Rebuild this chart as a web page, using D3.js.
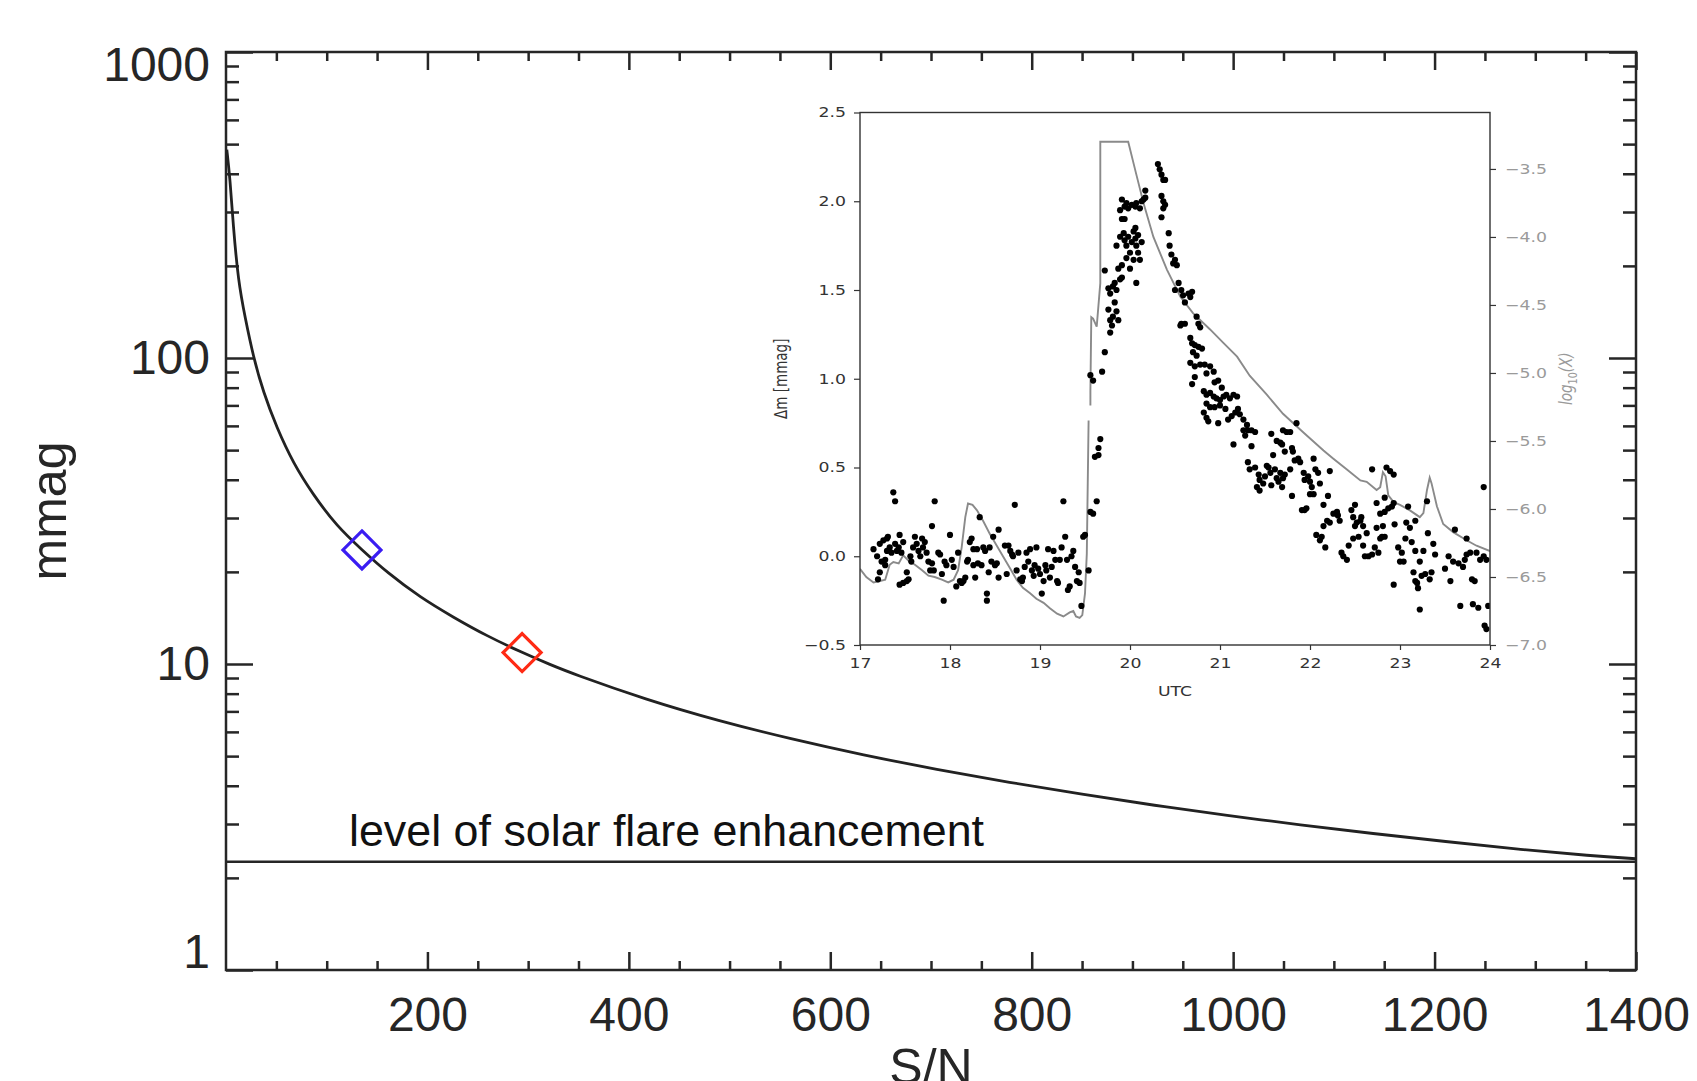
<!DOCTYPE html>
<html>
<head>
<meta charset="utf-8">
<script src="https://cdn.jsdelivr.net/npm/d3@7"></script>
<style>
  body { margin: 0; background: #fff; }
  svg { display: block; }
</style>
</head>
<body>
<script>
// main curve: photometric error (mmag) against S/N
var snValues   = [0.8, 4.0, 7.2, 12.2, 18.9, 27.1, 37.0, 50.3, 66.8, 86.7, 110, 135, 160, 193, 226, 259, 294, 322, 344, 417, 489, 561, 633, 706, 778, 850, 922, 994, 1067, 1139, 1211, 1283, 1356, 1400];
var mmagValues = [480, 386, 270, 178, 136, 101, 77.4, 59.3, 45.3, 35.7, 28.2, 23.6, 19.9, 16.5, 14.2, 12.35, 10.9, 9.95, 9.3, 7.65, 6.52, 5.69, 5.04, 4.52, 4.10, 3.75, 3.45, 3.20, 2.98, 2.79, 2.63, 2.48, 2.36, 2.31];
var flareLevel = 2.26;
var markerSN   = [135, 294];
var markerMmag = [23.6, 10.9];
var markerColors = ["#3a1cf2", "#ff2a14"];

var xMajor = [200, 400, 600, 800, 1000, 1200, 1400];
var xMinor = [50, 100, 150, 250, 300, 350, 450, 500, 550, 650, 700, 750, 850, 900, 950, 1050, 1100, 1150, 1250, 1300, 1350];
var yMajor = [1, 10, 100, 1000];
var yMinor = [2, 3, 4, 5, 6, 7, 8, 9, 20, 30, 40, 50, 60, 70, 80, 90, 200, 300, 400, 500, 600, 700, 800, 900];

// inset: GOES log10(X) flux (grey line) and delta m (dots) vs UTC
var goesUTC = [17.00, 17.07, 17.15, 17.22, 17.28, 17.33, 17.37, 17.43, 17.48, 17.54, 17.61, 17.69, 17.76, 17.83, 17.91, 17.98,
  18.04, 18.09, 18.13, 18.17, 18.20, 18.25, 18.30, 18.37, 18.44, 18.52, 18.59, 18.67, 18.74, 18.81, 18.89, 18.96,
  19.04, 19.11, 19.19, 19.26, 19.33, 19.37, 19.40, 19.44, 19.47, 19.50, 19.52, 19.54, null, 19.56, 19.56, 19.57, 19.59, 19.63, 19.67,
  19.67, 19.98, 20.07, 20.15, 20.26, 20.41, 20.56, 20.70, 20.89, 21.04, 21.19, 21.33, 21.52, 21.70, 21.93, 22.15, 22.26,
  22.41, 22.56, 22.63, 22.74, 22.78, 22.81, 22.84, 22.87, 22.93, 23.00, 23.11, 23.22, 23.26, 23.30, 23.33, 23.35,
  23.41, 23.48, 23.59, 23.74, 23.85, 24.00];
var goesLog = [-6.44, -6.50, -6.54, -6.53, -6.52, -6.41, -6.39, -6.40, -6.34, -6.38, -6.41, -6.45, -6.49, -6.50, -6.52, -6.54,
  -6.52, -6.45, -6.28, -6.06, -5.96, -5.97, -6.01, -6.09, -6.18, -6.27, -6.35, -6.44, -6.52, -6.58, -6.62, -6.66,
  -6.69, -6.73, -6.77, -6.79, -6.76, -6.75, -6.79, -6.80, -6.78, -6.62, -6.33, -5.35, null, -5.24, -5.13, -4.59, -4.60, -4.66, -4.34,
  -3.30, -3.30, -3.54, -3.75, -4.00, -4.24, -4.44, -4.56, -4.68, -4.78, -4.88, -5.02, -5.16, -5.30, -5.44, -5.57, -5.63,
  -5.71, -5.79, -5.80, -5.86, -5.84, -5.73, -5.76, -5.90, -5.95, -5.97, -6.01, -6.06, -6.03, -5.86, -5.77, -5.81,
  -5.98, -6.11, -6.17, -6.23, -6.27, -6.31];

var flareDots = [
  [17.15,0.04],[17.19,0.00],[17.22,0.07],[17.24,-0.03],[17.26,0.09],[17.28,-0.02],[17.30,0.10],[17.31,0.11],[17.22,-0.09],[17.20,-0.13],
  [17.28,-0.05],[17.30,0.03],[17.33,0.05],[17.35,0.02],[17.37,0.36],[17.39,0.31],[17.39,0.07],[17.41,0.03],[17.43,0.05],[17.44,0.12],
  [17.46,0.02],[17.48,0.08],[17.44,-0.16],[17.48,-0.15],[17.52,-0.14],[17.52,-0.09],[17.54,-0.13],[17.56,0.00],[17.57,-0.03],[17.59,0.05],
  [17.61,0.11],[17.63,0.07],[17.65,0.03],[17.67,0.00],[17.69,0.10],[17.70,0.05],[17.72,0.08],[17.74,0.02],[17.76,-0.03],[17.78,-0.08],
  [17.80,-0.04],[17.82,-0.08],[17.83,0.31],[17.80,0.17],[17.87,0.02],[17.89,0.01],[17.91,-0.10],[17.93,-0.25],[17.94,-0.03],[17.96,-0.05],
  [18.00,0.12],[18.02,-0.02],[18.04,-0.06],[18.07,-0.17],[18.09,0.02],[18.11,-0.14],[18.13,-0.15],[18.15,-0.14],[18.17,-0.12],[18.19,-0.03],
  [18.20,-0.02],[18.22,0.08],[18.24,0.10],[18.26,0.04],[18.26,-0.05],[18.28,-0.12],[18.30,0.04],[18.31,-0.04],[18.33,0.22],[18.35,-0.05],
  [18.37,0.05],[18.39,0.03],[18.41,-0.25],[18.41,-0.21],[18.43,-0.09],[18.44,0.05],[18.46,-0.03],[18.48,0.11],[18.50,-0.05],[18.52,-0.04],
  [18.54,-0.12],[18.54,0.15],[18.61,0.06],[18.63,-0.10],[18.65,0.06],[18.67,0.03],[18.69,0.01],[18.70,0.00],[18.72,0.29],[18.74,-0.08],
  [18.76,0.02],[18.78,-0.13],[18.80,-0.14],[18.81,-0.12],[18.83,-0.06],[18.85,0.02],[18.87,-0.03],[18.89,0.04],[18.91,-0.08],[18.93,-0.11],
  [18.94,-0.05],[18.96,0.05],[18.98,-0.07],[19.00,-0.10],[19.02,-0.21],[19.04,-0.14],[19.06,-0.05],[19.07,-0.08],[19.09,0.04],[19.11,-0.12],
  [19.13,-0.06],[19.15,0.03],[19.17,-0.02],[19.19,-0.14],[19.20,-0.15],[19.22,-0.02],[19.24,0.05],[19.26,0.31],[19.28,0.11],[19.30,-0.02],
  [19.31,-0.19],[19.33,-0.17],[19.35,0.00],[19.37,0.03],[19.39,-0.06],[19.41,-0.14],[19.43,-0.09],[19.44,-0.15],[19.46,-0.28],[19.48,0.11],
  [19.50,0.12],[19.54,-0.08],[19.56,0.25],[19.59,0.24],[19.63,0.31],[19.61,0.56],[19.65,0.57],[19.67,0.66],[19.65,0.61],
  [19.56,1.02],[19.59,0.99],[19.69,1.04],[19.72,1.15],[19.78,1.26],[19.80,1.30],[19.78,1.33],[19.81,1.35],[19.76,1.39],[19.85,1.38],
  [19.83,1.43],[19.87,1.33],[19.78,1.48],[19.81,1.52],[19.85,1.50],[19.83,1.54],[19.89,1.56],[19.91,1.57],[19.72,1.61],[19.76,1.51],
  [19.87,1.62],[19.91,1.64],[19.85,1.75],[19.89,1.80],[19.93,1.82],[19.94,1.78],[19.96,1.75],[19.98,1.80],[20.00,1.71],[20.02,1.77],
  [20.04,1.83],[20.06,1.79],[20.07,1.75],[20.09,1.71],[20.11,1.67],[20.00,1.62],[20.07,1.54],[19.91,2.01],[19.89,1.95],[19.94,1.97],
  [19.96,1.99],[19.98,1.96],[20.02,1.98],[20.06,1.97],[20.07,1.99],[20.11,1.96],[20.13,2.00],[20.15,2.01],[20.17,2.06],[20.17,2.02],
  [19.91,1.90],[19.94,1.90],[20.06,1.85],[20.09,1.81],[20.13,1.77],[19.96,1.68],[20.04,1.67],
  [20.31,2.21],[20.33,2.18],[20.35,2.15],[20.37,2.12],[20.39,2.12],[20.35,2.03],[20.37,2.00],[20.39,1.98],[20.37,1.96],[20.35,1.91],
  [20.43,1.82],[20.44,1.75],[20.46,1.70],[20.48,1.65],[20.50,1.67],[20.52,1.64],[20.54,1.54],[20.56,1.30],[20.50,1.50],
  [20.57,1.50],[20.59,1.47],[20.61,1.43],[20.65,1.48],[20.67,1.46],[20.69,1.49],[20.57,1.31],[20.61,1.31],[20.74,1.35],[20.76,1.31],
  [20.78,1.29],[20.67,1.23],[20.69,1.20],[20.72,1.19],[20.76,1.18],[20.80,1.17],[20.70,1.15],[20.74,1.13],[20.67,1.09],[20.72,1.07],
  [20.78,1.08],[20.83,1.08],[20.89,1.07],[20.93,1.04],[20.85,1.03],[20.72,1.01],[20.69,0.97],[20.94,0.98],[20.98,0.99],[21.02,0.95],
  [20.82,0.93],[20.85,0.91],[20.89,0.92],[20.93,0.90],[20.96,0.89],[21.00,0.88],[21.04,0.90],[21.07,0.91],[21.11,0.89],[21.15,0.91],
  [21.19,0.90],[20.85,0.86],[20.89,0.84],[20.94,0.84],[21.00,0.85],[21.06,0.83],[20.82,0.81],[20.85,0.78],[20.87,0.76],[20.98,0.75],
  [21.09,0.77],[21.13,0.79],[21.17,0.81],[21.20,0.83],[21.22,0.80],[21.26,0.77],[21.30,0.74],[21.31,0.71],[21.35,0.71],[21.39,0.70],
  [21.26,0.71],[21.28,0.68],[21.15,0.63],[21.35,0.62],[21.31,0.53],[21.33,0.49],[21.39,0.50],[21.43,0.46],[21.44,0.43],[21.41,0.39],
  [21.44,0.37],[21.48,0.41],[21.50,0.45],[21.52,0.51],[21.54,0.50],[21.56,0.47],[21.57,0.40],[21.59,0.57],[21.61,0.49],[21.63,0.44],
  [21.65,0.42],[21.67,0.47],[21.69,0.39],[21.70,0.44],[21.72,0.46],[21.57,0.69],[21.63,0.65],[21.67,0.64],[21.70,0.71],[21.74,0.70],
  [21.78,0.70],[21.69,0.63],[21.72,0.59],[21.80,0.61],[21.81,0.59],[21.83,0.54],[21.87,0.55],[21.89,0.53],[21.78,0.49],[21.80,0.34],
  [21.85,0.75],[21.93,0.47],[21.94,0.43],[21.98,0.45],[22.00,0.42],[22.02,0.39],[22.04,0.55],[22.06,0.49],[22.09,0.47],[22.11,0.41],
  [22.00,0.35],[22.04,0.35],[22.15,0.29],[22.20,0.34],[22.22,0.48],[21.91,0.26],[21.94,0.26],[21.96,0.27],[22.07,0.12],[22.11,0.09],
  [22.13,0.11],[22.17,0.05],[22.15,0.17],[22.19,0.20],[22.22,0.19],[22.26,0.24],[22.30,0.25],[22.31,0.23],[22.33,0.20],[22.35,0.02],
  [22.37,0.00],[22.41,-0.02],[22.43,0.06],[22.46,0.26],[22.50,0.29],[22.48,0.22],[22.50,0.17],[22.52,0.19],[22.56,0.20],[22.57,0.22],
  [22.59,0.17],[22.63,0.13],[22.48,0.10],[22.54,0.11],[22.59,0.06],[22.61,0.00],[22.65,0.00],[22.69,0.01],[22.69,0.49],[22.72,0.05],
  [22.74,0.16],[22.76,0.02],[22.78,0.10],[22.80,0.11],[22.81,0.17],[22.83,0.11],[22.83,0.33],[22.85,0.50],[22.89,0.48],[22.93,0.46],
  [22.74,0.30],[22.78,0.24],[22.83,0.25],[22.87,0.27],[22.91,0.28],[22.93,0.30],[22.94,0.18],[22.98,0.05],[23.00,-0.03],[23.04,-0.03],
  [23.06,0.10],[23.07,0.19],[23.11,0.16],[23.02,0.02],[23.13,0.08],[23.15,-0.09],[23.17,-0.14],[23.19,-0.15],[23.20,-0.18],[23.22,-0.03],
  [23.17,0.03],[23.24,-0.11],[23.26,0.03],[23.28,-0.10],[23.31,0.13],[23.33,-0.13],[23.35,-0.09],[23.37,0.07],[23.39,0.01],[22.93,-0.16],
  [23.22,-0.30],[23.50,-0.07],[23.54,0.00],[23.56,-0.14],[23.59,-0.03],[23.65,-0.04],[23.67,-0.28],[23.70,-0.06],[23.72,-0.02],[23.74,0.01],
  [23.78,0.02],[23.80,-0.13],[23.81,-0.27],[23.83,-0.14],[23.85,0.02],[23.87,-0.29],[23.89,-0.02],[23.93,0.00],[23.93,0.39],[23.94,-0.39],
  [23.96,-0.41],[23.96,-0.02],[23.98,-0.28],[23.61,0.15],[23.74,0.10],[23.30,0.31],[23.17,0.20],[23.09,0.28]
];

var insetXTicks = [17, 18, 19, 20, 21, 22, 23, 24];
var insetLeftTicks = [-0.5, 0.0, 0.5, 1.0, 1.5, 2.0, 2.5];
var insetRightTicks = [-7.0, -6.5, -6.0, -5.5, -5.0, -4.5, -4.0, -3.5];

var W = 1697, H = 1081;
var margin = {left: 226, right: 1636, top: 52, bottom: 970};

var svg = d3.select("body").append("svg")
    .attr("width", W)
    .attr("height", H);

var xScale = d3.scaleLinear().domain([0, 1400]).range([margin.left, margin.right]);
var yScale = d3.scaleLog().domain([1, 1000]).range([margin.bottom, margin.top]);

var mainFont = "'Liberation Sans', Arial, Helvetica, sans-serif";
var ink = "#262626";

// clip so the steep start of the curve stays inside the frame
svg.append("clipPath").attr("id", "mainClip")
  .append("rect").attr("x", margin.left).attr("y", margin.top)
  .attr("width", margin.right - margin.left).attr("height", margin.bottom - margin.top);

//Axes: majors and minors drawn separately, all ticks pointing inward
function styleAxis(g) {
  g.select(".domain").remove();
  g.selectAll("line").attr("stroke", ink).attr("stroke-width", 2.5);
  g.selectAll("text").attr("fill", ink).style("font-family", mainFont).style("font-size", "48px");
}

svg.append("g").attr("transform", "translate(0," + margin.bottom + ")")
  .call(d3.axisBottom(xScale).tickValues(xMajor).tickSizeInner(-18).tickSizeOuter(0).tickPadding(27).tickFormat(d3.format("d")))
  .call(styleAxis);
svg.append("g").attr("transform", "translate(0," + margin.bottom + ")")
  .call(d3.axisBottom(xScale).tickValues(xMinor).tickSizeInner(-9).tickSizeOuter(0).tickFormat(""))
  .call(styleAxis);
svg.append("g").attr("transform", "translate(0," + margin.top + ")")
  .call(d3.axisTop(xScale).tickValues(xMajor).tickSizeInner(-18).tickSizeOuter(0).tickFormat(""))
  .call(styleAxis);
svg.append("g").attr("transform", "translate(0," + margin.top + ")")
  .call(d3.axisTop(xScale).tickValues(xMinor).tickSizeInner(-9).tickSizeOuter(0).tickFormat(""))
  .call(styleAxis);

var yLeft = svg.append("g").attr("transform", "translate(" + margin.left + ",0)")
  .call(d3.axisLeft(yScale).tickValues(yMajor).tickSizeInner(-27).tickSizeOuter(0).tickPadding(16).tickFormat(d3.format("d")))
  .call(styleAxis);
// first and last labels sit inside the axis span
yLeft.selectAll(".tick text").attr("dy", function(d) {
  if (d === 1000) return "0.6em";
  if (d === 1) return "-0.05em";
  return "0.32em";
});
svg.append("g").attr("transform", "translate(" + margin.left + ",0)")
  .call(d3.axisLeft(yScale).tickValues(yMinor).tickSizeInner(-13).tickSizeOuter(0).tickFormat(""))
  .call(styleAxis);
svg.append("g").attr("transform", "translate(" + margin.right + ",0)")
  .call(d3.axisRight(yScale).tickValues(yMajor).tickSizeInner(-27).tickSizeOuter(0).tickFormat(""))
  .call(styleAxis);
svg.append("g").attr("transform", "translate(" + margin.right + ",0)")
  .call(d3.axisRight(yScale).tickValues(yMinor).tickSizeInner(-13).tickSizeOuter(0).tickFormat(""))
  .call(styleAxis);

//Frame
svg.append("rect")
  .attr("x", margin.left).attr("y", margin.top)
  .attr("width", margin.right - margin.left).attr("height", margin.bottom - margin.top)
  .attr("fill", "none").attr("stroke", ink).attr("stroke-width", 2.5);

//Axis labels
svg.append("text")
  .attr("x", (margin.left + margin.right) / 2).attr("y", 1084)
  .attr("text-anchor", "middle")
  .style("font-family", mainFont).style("font-size", "50px").attr("fill", ink)
  .text("S/N");
svg.append("text")
  .attr("transform", "translate(66," + (margin.top + margin.bottom) / 2 + ") rotate(-90)")
  .attr("text-anchor", "middle")
  .style("font-family", mainFont).style("font-size", "50px").attr("fill", ink)
  .text("mmag");

//Flare level line and its label
svg.append("line")
  .attr("x1", margin.left).attr("x2", margin.right)
  .attr("y1", yScale(flareLevel)).attr("y2", yScale(flareLevel))
  .attr("stroke", ink).attr("stroke-width", 2.5);
svg.append("text")
  .attr("x", 349).attr("y", 846)
  .style("font-family", mainFont).style("font-size", "44.8px").attr("fill", "#111")
  .text("level of solar flare enhancement");

//Curve
var curveData = snValues.map(function(d, i) { return [d, mmagValues[i]]; });
var curveLine = d3.line()
  .x(function(d) { return xScale(d[0]); })
  .y(function(d) { return yScale(d[1]); })
  .curve(d3.curveBasis);
svg.append("path")
  .datum(curveData)
  .attr("clip-path", "url(#mainClip)")
  .attr("d", curveLine)
  .attr("fill", "none").attr("stroke", "#222").attr("stroke-width", 2.8);

//Diamonds
var dsize = 19;
svg.selectAll(".marker")
  .data(markerSN)
  .enter().append("path")
  .attr("class", "marker")
  .attr("d", function(d, i) {
    var cx = xScale(d), cy = yScale(markerMmag[i]);
    return "M" + cx + "," + (cy - dsize) + "L" + (cx + dsize) + "," + cy + "L" + cx + "," + (cy + dsize) + "L" + (cx - dsize) + "," + cy + "Z";
  })
  .attr("fill", "none")
  .attr("stroke", function(d, i) { return markerColors[i]; })
  .attr("stroke-width", 3.2);

// ---------------- inset ----------------
var inset = {left: 860, right: 1490, top: 112.5, bottom: 645};
var insetFont = "'DejaVu Sans', Verdana, sans-serif";
var insetInk = "#333";
var stretch = 1.28; // the inset was pasted stretched sideways, text included

var ix = d3.scaleLinear().domain([17, 24]).range([inset.left, inset.right]);
var iyL = d3.scaleLinear().domain([-0.5, 2.5]).range([inset.bottom, inset.top]);
var iyR = d3.scaleLinear().domain([-7.0, -3.085]).range([inset.bottom, inset.top]);

svg.append("rect")
  .attr("x", inset.left).attr("y", inset.top)
  .attr("width", inset.right - inset.left).attr("height", inset.bottom - inset.top)
  .attr("fill", "#fff");

svg.append("clipPath").attr("id", "insetClip")
  .append("rect").attr("x", inset.left).attr("y", inset.top)
  .attr("width", inset.right - inset.left).attr("height", inset.bottom - inset.top);

var minus = function(fmt) { return function(d) { return d3.format(fmt)(d).replace("-", "\u2212"); }; };

function styleInset(g, color) {
  g.select(".domain").remove();
  g.selectAll("line").attr("stroke", insetInk).attr("stroke-width", 1.2);
  g.selectAll("text").attr("fill", color).style("font-family", insetFont).style("font-size", "13.5px")
    .each(function() {
      var t = d3.select(this);
      var x = +t.attr("x") || 0, y = +t.attr("y") || 0;
      t.attr("x", 0).attr("y", 0).attr("transform", "translate(" + x + "," + y + ") scale(" + stretch + ",1)");
    });
}

svg.append("g").attr("transform", "translate(0," + inset.bottom + ")")
  .call(d3.axisBottom(ix).tickValues(insetXTicks).tickSizeInner(5).tickSizeOuter(0).tickPadding(8).tickFormat(d3.format("d")))
  .call(styleInset, insetInk);
svg.append("g").attr("transform", "translate(" + inset.left + ",0)")
  .call(d3.axisLeft(iyL).tickValues(insetLeftTicks).tickSizeInner(6).tickSizeOuter(0).tickPadding(8).tickFormat(minus(".1f")))
  .call(styleInset, insetInk);
svg.append("g").attr("transform", "translate(" + inset.right + ",0)")
  .call(d3.axisRight(iyR).tickValues(insetRightTicks).tickSizeInner(6).tickSizeOuter(0).tickPadding(9).tickFormat(minus(".1f")))
  .call(styleInset, "#9a9a9a");

//GOES grey line
var goesData = goesUTC.map(function(d, i) { return [d, goesLog[i]]; });
svg.append("path")
  .datum(goesData)
  .attr("clip-path", "url(#insetClip)")
  .attr("d", d3.line()
    .defined(function(d) { return d[0] !== null && d[1] !== null; })
    .x(function(d) { return ix(d[0]); })
    .y(function(d) { return iyR(d[1]); }))
  .attr("fill", "none").attr("stroke", "#8a8a8a").attr("stroke-width", 1.9);

//Delta m dots
svg.append("g").attr("clip-path", "url(#insetClip)")
  .selectAll(".dot")
  .data(flareDots)
  .enter().append("circle")
  .attr("class", "dot")
  .attr("cx", function(d) { return ix(d[0]); })
  .attr("cy", function(d) { return iyL(d[1]); })
  .attr("r", 3.1)
  .attr("fill", "#000");

svg.append("rect")
  .attr("x", inset.left).attr("y", inset.top)
  .attr("width", inset.right - inset.left).attr("height", inset.bottom - inset.top)
  .attr("fill", "none").attr("stroke", insetInk).attr("stroke-width", 1.4);

//Inset labels
svg.append("text")
  .attr("transform", "translate(" + (inset.left + inset.right) / 2 + ",696) scale(" + stretch + ",1)")
  .attr("text-anchor", "middle")
  .style("font-family", insetFont).style("font-size", "13.5px").attr("fill", insetInk)
  .text("UTC");
svg.append("text")
  .attr("transform", "translate(787," + (inset.top + inset.bottom) / 2 + ") scale(" + stretch + ",1) rotate(-90)")
  .attr("text-anchor", "middle")
  .style("font-family", insetFont).style("font-size", "13.5px").attr("fill", insetInk)
  .text("\u0394m [mmag]");
var rl = svg.append("text")
  .attr("transform", "translate(1572," + (inset.top + inset.bottom) / 2 + ") scale(" + stretch + ",1) rotate(-90)")
  .attr("text-anchor", "middle")
  .style("font-family", insetFont).style("font-size", "13.5px").attr("fill", "#9a9a9a");
rl.append("tspan").style("font-style", "italic").text("log");
rl.append("tspan").attr("dy", 4).style("font-size", "9.5px").text("10");
rl.append("tspan").attr("dy", -4).style("font-style", "italic").text("(X)");
</script>
</body>
</html>
